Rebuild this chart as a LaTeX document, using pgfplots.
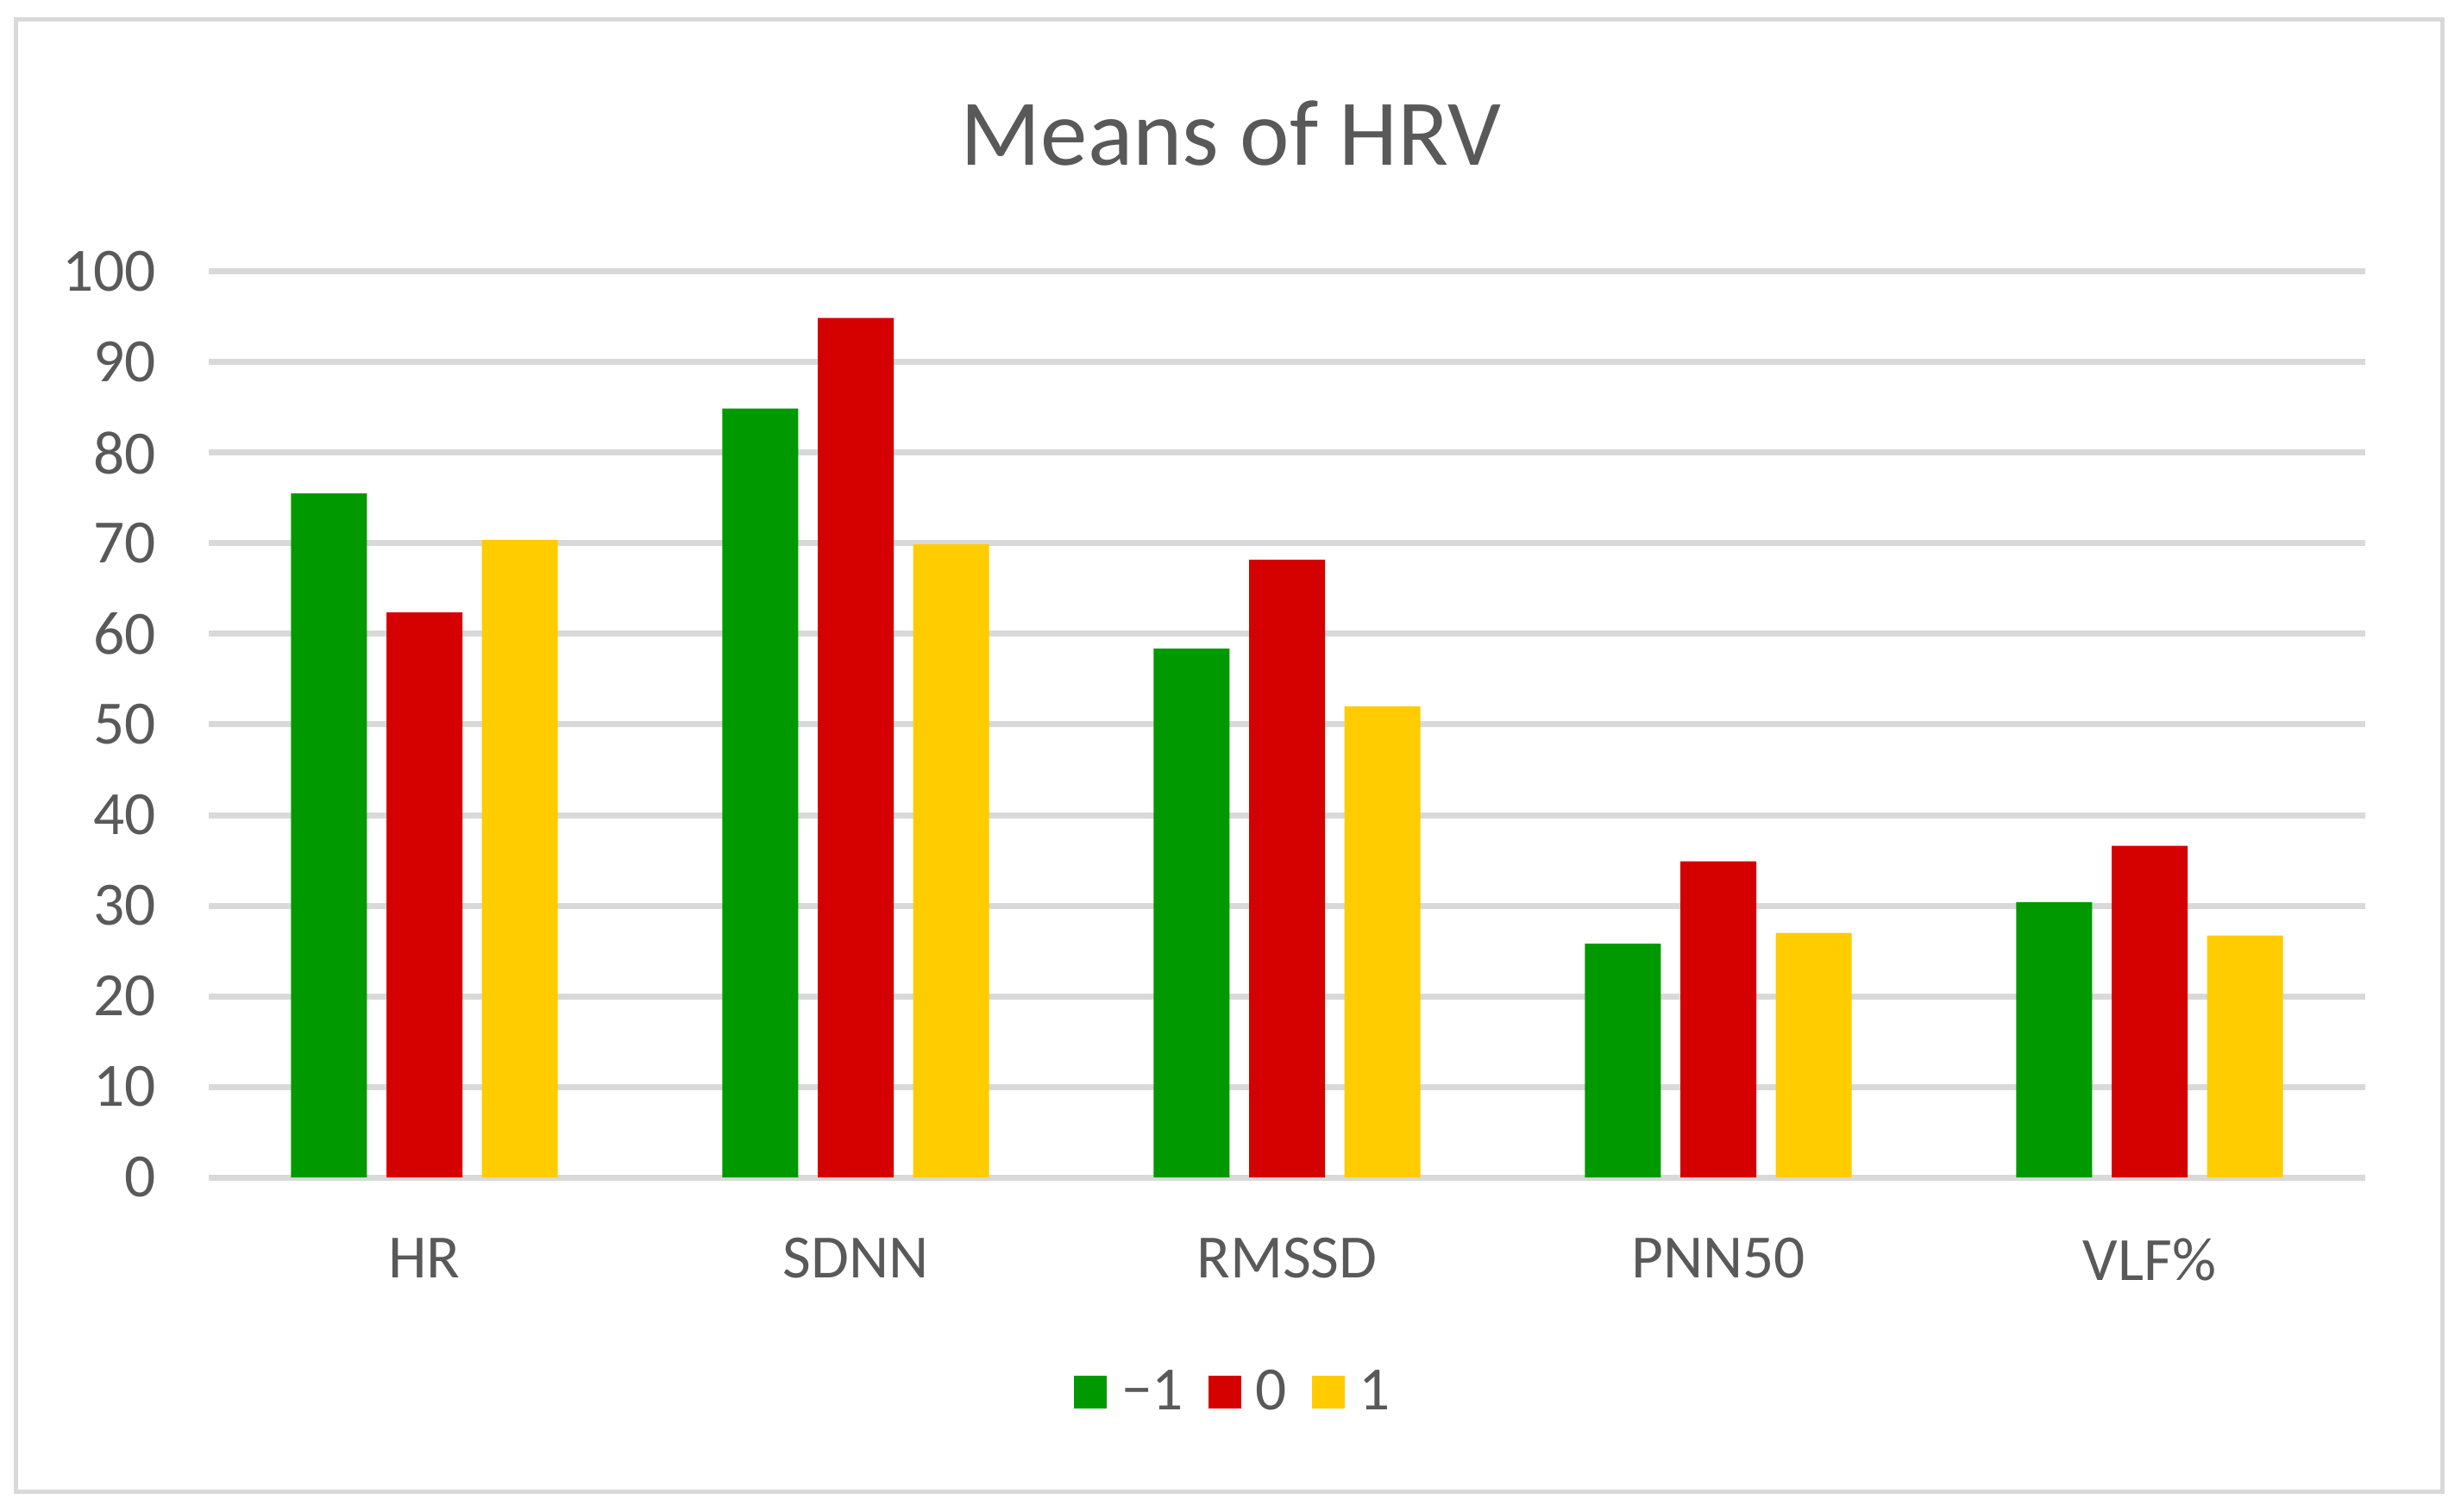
\documentclass[border=0pt]{standalone}
\usepackage{pgfplots}
\pgfplotsset{compat=1.18}
\usepackage{fontspec}
\setmainfont{Carlito}
\definecolor{cgreen}{HTML}{009900}
\definecolor{cred}{HTML}{D50000}
\definecolor{cyellow}{HTML}{FFCC00}
\definecolor{cgrid}{HTML}{D9D9D9}
\definecolor{txt}{HTML}{595959}
\begin{document}
\begin{tikzpicture}
\path[use as bounding box, fill=white] (0,0) rectangle (285.3mm,175.2mm);
\draw[cgrid, line width=0.5mm] (1.8mm,2.3mm) rectangle (283.1mm,172.9mm);
\node[text=txt, font=\fontsize{31}{37}\selectfont] at (142.7mm,159.7mm) {Means of HRV};
\begin{axis}[
  at={(24.2mm,38.7mm)}, anchor=south west,
  scale only axis, width=250mm, height=105mm,
  xmin=-0.5, xmax=4.5, ymin=0, ymax=100,
  ybar=2.27mm, bar width=8.8mm,
  axis line style={draw=none},
  tick style={draw=none},
  ymajorgrids,
  major grid style={cgrid, line width=0.7mm},
  xtick={0,1,2,3,4},
  xticklabels={HR,SDNN,RMSSD,PNN50,VLF\%},
  ytick={0,10,...,100},
  /pgf/number format/assume math mode=true,
  tick label style={font=\fontsize{20.3}{24}\selectfont, text=txt},
  yticklabel style={xshift=-4.9mm},
  xticklabel style={yshift=-4.3mm},
  legend columns=3,
  legend style={at={(0.478,-0.237)}, anchor=center, draw=none,
    font=\fontsize{20.3}{24}\selectfont, text=txt,
    nodes={inner xsep=1.7mm},
    /tikz/every even column/.append style={column sep=1.2mm}},
  legend image code/.code={\draw[#1,/tikz/.cd,draw=none] (0mm,-1.9mm) rectangle (3.8mm,1.9mm);},
]
\addplot[fill=cgreen, draw=none] coordinates {(0,75.5) (1,84.9) (2,58.4) (3,25.8) (4,30.4)};
\addplot[fill=cred, draw=none] coordinates {(0,62.4) (1,94.9) (2,68.2) (3,34.9) (4,36.6)};
\addplot[fill=cyellow, draw=none] coordinates {(0,70.4) (1,69.9) (2,52.0) (3,27.0) (4,26.7)};
\legend{−1,0,1}
\end{axis}
\end{tikzpicture}
\end{document}
